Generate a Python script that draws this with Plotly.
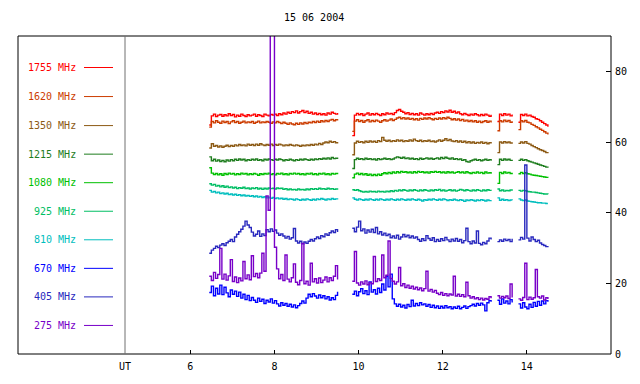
import numpy as np
import plotly.graph_objects as go

TITLE = "15 06 2004"
FREQS = ["1755 MHz", "1620 MHz", "1350 MHz", "1215 MHz", "1080 MHz",
         "925 MHz", "810 MHz", "670 MHz", "405 MHz", "275 MHz"]
COLORS = ["#ff0000", "#cc3c00", "#8c5a14", "#1e7d1e", "#00c000",
          "#00be64", "#00bebe", "#0000ff", "#2828be", "#7800c8"]
X_TICKS = [6, 8, 10, 12, 14]
Y_TICKS = [0, 20, 40, 60, 80]

# observation segments (UT hours)
T1 = np.linspace(6.45, 9.50, 62)
T2 = np.linspace(9.85, 13.15, 67)
T3 = np.linspace(13.30, 13.65, 8)
T4 = np.linspace(13.80, 14.50, 15)
SEGS = [T1, T2, T3, T4]

S1755 = [
    64.8, 67.4, 67.9, 67.2, 67.6, 67.8, 67.3, 67.7, 67.4, 68.0,
    67.5, 67.8, 67.1, 67.6, 67.3, 67.9, 67.5, 67.2, 67.7, 67.4,
    67.6, 67.9, 67.3, 67.7, 67.5, 67.2, 67.9, 67.6, 67.4, 67.8,
    67.6, 67.9, 67.5, 68.0, 67.7, 68.2, 67.9, 68.4, 68.1, 68.6,
    68.3, 68.8, 68.2, 68.6, 68.9, 68.3, 68.7, 68.1, 68.4, 67.9,
    68.2, 67.8, 68.1, 67.7, 68.0, 67.6, 68.2, 67.9, 68.4, 68.1,
    67.9, 68.2,
    61.8, 67.6, 68.1, 67.7, 68.0, 67.5, 67.9, 68.2, 67.6, 68.0,
    67.7, 68.1, 67.8, 67.5, 68.0, 67.7, 68.2, 67.9, 68.1, 67.8,
    68.3, 68.9, 69.2, 68.7, 68.4, 68.0, 68.3, 67.8, 68.1, 67.7,
    68.0, 67.6, 68.2, 67.9, 67.6, 68.0, 67.7, 68.1, 67.8, 68.2,
    68.4, 68.1, 68.6, 68.3, 68.8, 68.5, 69.0, 68.4, 68.7, 68.2,
    68.5, 68.0, 67.7, 68.1, 67.8, 67.5, 67.9, 67.6, 68.0, 67.7,
    67.4, 67.8, 67.5, 67.9, 67.6, 67.3, 67.7,
    65.8, 67.9, 67.5, 68.0, 67.6, 67.9, 67.4, 67.8,
    65.6, 67.8, 67.5, 67.9, 67.4, 67.6, 67.2, 67.0, 66.6, 66.4, 66.0, 65.6, 65.2, 64.8, 64.3,
]
S1620 = [
    64.2, 65.8, 65.4, 66.0, 65.6, 65.3, 65.9, 65.5, 65.8, 65.2,
    65.7, 66.0, 65.5, 65.8, 65.3, 65.6, 65.9, 65.4, 65.7, 65.5,
    65.8, 65.3, 65.6, 65.9, 65.4, 65.7, 65.5, 65.8, 65.6, 65.3,
    65.7, 65.4, 65.8, 65.5, 65.2, 65.6, 65.3, 65.0, 65.4, 65.1,
    64.9, 65.3, 65.0, 65.4, 65.1, 65.5, 65.2, 65.6, 65.4, 65.8,
    65.5, 65.9, 65.6, 66.0, 65.7, 66.1, 65.8, 66.2, 66.4, 66.0,
    66.3, 66.1,
    63.0, 65.9, 66.3, 65.8, 66.1, 65.6, 66.0, 66.3, 65.7, 66.1,
    65.8, 66.2, 65.9, 65.6, 66.0, 66.3, 65.9, 66.2, 66.5, 66.1,
    66.4, 66.8, 67.0, 66.6, 66.9, 66.5, 66.8, 66.4, 66.7, 66.3,
    66.6, 66.2, 66.7, 66.4, 66.8, 66.5, 66.9, 66.6, 66.3, 66.7,
    66.4, 66.8, 66.5, 66.9, 66.6, 67.0, 66.7, 66.3, 66.6, 66.2,
    66.5, 66.1, 66.4, 65.9, 66.2, 65.8, 66.1, 65.7, 66.0, 65.6,
    65.9, 65.5, 65.8, 66.0, 65.6, 65.9, 65.5,
    63.2, 66.0, 65.7, 66.2, 65.8, 66.1, 65.6, 65.9,
    63.5, 66.0, 65.7, 66.1, 65.6, 65.4, 65.0, 64.7, 64.3, 64.0, 63.6, 63.3, 62.9, 62.5, 62.1,
]
S1350 = [
    58.3, 59.5, 58.8, 59.0, 58.6, 58.9, 58.5, 58.8, 59.1, 58.7,
    59.0, 58.8, 59.2, 58.9, 59.3, 59.0, 59.2, 58.9, 59.4, 59.1,
    59.3, 59.0, 59.4, 59.1, 59.5, 59.2, 59.0, 59.3, 59.1, 59.4,
    59.0, 59.3, 59.1, 59.4, 59.2, 58.9, 59.2, 59.0, 59.3, 59.1,
    58.9, 59.2, 59.0, 58.8, 59.1, 58.9, 59.2, 59.0, 59.3, 59.1,
    59.4, 59.2, 59.6, 59.3, 59.7, 60.0, 59.8, 60.2, 59.9, 60.1,
    59.8, 60.0,
    56.4, 59.7, 60.2, 59.9, 60.1, 59.8, 60.2, 59.9, 60.3, 60.0,
    60.2, 59.9, 60.4, 60.1, 61.3, 60.5, 60.2, 60.5, 60.1, 60.4,
    60.2, 60.6, 60.3, 60.5, 60.1, 60.4, 60.2, 60.6, 60.3, 60.8,
    60.4, 60.2, 60.5, 60.1, 60.4, 60.2, 60.5, 60.1, 60.3, 60.0,
    60.3, 60.6, 60.2, 60.5, 60.9, 60.4, 60.7, 60.3, 60.1, 60.4,
    60.0, 60.3, 59.9, 60.2, 59.8, 60.1, 59.7, 60.0, 59.6, 59.9,
    59.7, 60.0, 59.6, 59.9, 59.5, 59.8, 59.6,
    57.0, 60.0, 59.7, 60.1, 59.8, 60.0, 59.7, 59.9,
    59.6, 60.0, 59.7, 60.1, 59.6, 59.4, 59.0, 58.7, 58.4, 58.1, 57.8, 57.6, 57.3, 57.0, 56.8,
]
S1215 = [
    55.8, 54.7, 55.1, 54.6, 54.9, 54.5, 54.8, 54.4, 54.9, 54.6,
    55.0, 54.7, 55.1, 54.8, 55.2, 54.9, 55.1, 54.7, 55.0, 54.8,
    55.1, 54.9, 55.2, 54.8, 55.0, 54.7, 55.1, 54.9, 55.2, 55.0,
    54.8, 55.1, 54.9, 55.2, 55.0, 54.7, 55.0, 54.8, 55.1, 54.9,
    54.7, 55.0, 54.8, 55.1, 54.9, 55.2, 55.0, 54.8, 55.1, 54.9,
    55.2, 55.0, 55.3, 55.1, 55.4, 55.2, 55.5, 55.2, 55.6, 55.3,
    55.4, 55.2,
    52.5, 55.0, 55.4, 55.1, 55.3, 55.0, 55.4, 55.1, 55.3, 55.0,
    55.2, 54.9, 55.3, 55.0, 55.2, 55.4, 55.1, 55.3, 55.0, 55.2,
    55.5, 55.8, 55.6, 55.4, 55.7, 55.3, 55.5, 55.2, 55.4, 55.1,
    55.3, 55.0, 55.4, 55.1, 55.3, 55.5, 55.2, 55.4, 55.1, 55.3,
    55.5, 55.2, 55.6, 55.3, 55.7, 55.4, 55.2, 55.5, 55.1, 55.3,
    55.0, 55.2, 54.8, 55.0, 54.5, 54.3, 54.7, 54.9, 55.1, 54.8,
    55.0, 54.7, 54.9, 55.1, 54.8, 55.0, 54.7,
    53.6, 55.1, 54.8, 55.2, 54.9, 55.1, 54.8, 55.0,
    54.8, 55.1, 54.8, 55.0, 54.7, 54.5, 54.3, 54.1, 53.9, 53.7, 53.5, 53.3, 53.1, 52.9, 52.7,
]
S1080 = [
    52.7, 51.2, 50.8, 51.1, 50.7, 51.0, 50.6, 51.1, 50.8, 51.2,
    50.9, 51.1, 50.7, 51.0, 50.8, 51.2, 50.9, 51.1, 50.7, 51.0,
    50.8, 51.1, 50.9, 50.6, 51.0, 50.8, 51.1, 50.9, 51.2, 50.8,
    51.0, 50.7, 51.1, 50.9, 51.2, 50.8, 51.0, 50.7, 51.1, 50.9,
    51.2, 50.9, 51.1, 50.8, 51.0, 50.7, 51.1, 50.9, 51.2, 50.8,
    51.0, 50.7, 51.1, 50.9, 51.2, 50.8, 51.0, 50.7, 51.1, 50.9,
    51.1, 50.9,
    49.9, 50.9, 51.2, 50.8, 51.1, 50.7, 51.0, 50.6, 50.9, 50.5,
    50.8, 50.5, 50.9, 50.6, 51.0, 51.3, 51.0, 51.4, 51.1, 51.5,
    51.2, 51.6, 51.3, 51.7, 51.4, 51.6, 51.3, 51.5, 51.2, 51.6,
    51.3, 51.7, 51.4, 51.6, 51.3, 51.5, 51.2, 51.6, 51.4, 51.7,
    51.4, 51.6, 51.3, 51.5, 51.2, 51.6, 51.3, 51.5, 51.2, 51.4,
    51.6, 51.3, 51.5, 51.2, 51.6, 51.3, 51.1, 51.4, 51.2, 51.5,
    51.2, 51.4, 51.1, 51.5, 51.2, 51.3, 51.0,
    48.3, 51.4, 51.1, 51.5, 51.2, 51.4, 51.1, 51.3,
    51.0, 51.4, 51.1, 51.3, 51.0, 50.9, 50.7, 50.6, 50.5, 50.4, 50.3, 50.2, 50.1, 50.0, 49.9,
]
S925 = [
    48.2, 47.8, 48.0, 47.5, 47.7, 47.3, 47.6, 47.2, 47.5, 47.1,
    47.3, 47.0, 47.2, 46.8, 47.1, 46.9, 47.2, 46.8, 47.0, 46.7,
    47.0, 46.8, 47.1, 46.7, 46.9, 46.6, 46.9, 46.7, 47.0, 46.8,
    46.9, 46.7, 47.0, 46.8, 46.9, 46.6, 46.8, 46.5, 46.7, 46.5,
    46.6, 46.4, 46.7, 46.5, 46.6, 46.4, 46.7, 46.5, 46.8, 46.6,
    46.8, 46.6, 46.9, 46.7, 46.8, 46.6, 46.9, 46.7, 46.8, 46.6,
    46.7, 46.5,
    46.5, 46.3, 46.5, 46.2, 46.0, 45.8, 46.0, 45.8, 46.1, 45.9,
    46.0, 45.8, 46.1, 45.9, 46.0, 45.8, 46.1, 45.9, 46.2, 46.0,
    46.3, 46.1, 46.4, 46.2, 46.5, 46.3, 46.1, 46.4, 46.2, 46.5,
    46.3, 46.1, 46.4, 46.2, 46.5, 46.3, 46.1, 46.4, 46.2, 46.5,
    46.3, 46.6, 46.2, 46.4, 46.1, 46.3, 46.5, 46.2, 46.4, 46.1,
    46.3, 46.6, 46.4, 46.2, 46.5, 46.3, 46.1, 46.4, 46.2, 46.5,
    46.3, 46.1, 46.4, 46.2, 46.5, 46.3, 46.2,
    46.7, 46.2, 46.4, 46.1, 46.3, 46.2, 46.4, 46.2,
    46.3, 46.1, 46.3, 46.2, 46.0, 45.9, 45.8, 45.8, 45.7, 45.6, 45.5, 45.4, 45.3, 45.3, 45.2,
]
S810 = [
    46.3, 45.8, 46.0, 45.6, 45.8, 45.4, 45.6, 45.3, 45.5, 45.1,
    45.3, 45.0, 45.2, 44.9, 45.1, 44.8, 45.0, 44.7, 44.9, 44.6,
    44.8, 44.5, 44.7, 44.4, 44.6, 44.3, 44.5, 44.2, 44.4, 44.1,
    44.3, 44.0, 44.2, 43.9, 44.1, 43.8, 44.0, 43.7, 43.9, 43.8,
    43.6, 43.9, 43.7, 43.5, 43.8, 43.6, 43.9, 43.7, 43.5, 43.8,
    43.6, 43.9, 43.7, 44.0, 43.8, 43.6, 43.9, 43.7, 44.0, 43.8,
    43.9, 43.7,
    44.2, 43.8, 43.6, 43.9, 43.7, 43.5, 43.8, 43.6, 43.9, 43.7,
    43.5, 43.8, 43.6, 43.9, 43.7, 43.5, 43.8, 43.6, 43.9, 43.7,
    43.5, 43.8, 43.6, 43.9, 43.7, 43.5, 43.8, 43.6, 43.9, 43.7,
    43.5, 43.8, 43.6, 43.3, 43.7, 43.5, 43.8, 43.6, 43.9, 43.7,
    43.5, 43.8, 43.6, 43.9, 43.7, 43.4, 43.7, 43.5, 43.8, 43.6,
    43.4, 43.7, 43.5, 43.2, 43.6, 43.4, 43.7, 43.5, 43.3, 43.6,
    43.4, 43.7, 43.5, 43.3, 43.6, 43.4, 43.5,
    44.2, 43.5, 43.8, 43.5, 43.7, 43.4, 43.6, 43.5,
    43.9, 43.6, 43.4, 43.6, 43.3, 43.2, 43.1, 43.0, 42.9, 42.8, 42.8, 42.7, 42.7, 42.6, 42.6,
]
S670 = [
    17.4, 19.2, 16.5, 18.6, 17.0, 19.5, 16.8, 18.9, 17.3, 16.2,
    18.1, 16.9, 17.8, 16.3, 17.5, 15.8, 16.9, 15.4, 16.6, 15.1,
    16.0, 15.2, 14.6, 15.8, 14.9, 15.5, 14.3, 15.2, 14.7, 15.6,
    14.4, 15.1, 14.2, 13.6, 14.5, 13.8, 14.3, 13.5, 14.1, 13.3,
    13.9, 13.1, 13.7, 14.3, 15.0, 14.4, 15.8, 16.9, 16.2, 17.1,
    16.4, 15.8, 16.7, 15.9, 16.5, 15.6, 16.2, 15.3, 15.9, 15.4,
    16.6, 17.6,
    16.9, 17.8, 16.5, 17.6, 18.5, 17.1, 17.9, 16.8, 20.4, 17.5,
    18.2, 17.0, 18.6, 17.4, 19.8, 18.1, 22.0, 19.0, 22.6, 15.6,
    14.2, 13.5, 14.1, 13.3, 13.8, 13.0, 14.0, 13.4, 15.2, 13.6,
    14.3, 13.7, 14.5, 13.9, 14.2, 13.5, 14.0, 13.2, 13.8, 13.1,
    13.6, 12.9, 13.5, 13.0, 13.7, 13.1, 13.4, 12.8, 13.3, 12.9,
    13.5, 12.8, 13.2, 13.6, 12.9, 13.4, 13.7, 14.1, 13.6, 14.3,
    13.8, 14.4, 13.9, 12.2, 14.5, 15.1, 14.8,
    15.2, 14.1, 15.6, 14.4, 15.0, 14.2, 15.4, 14.6,
    14.2, 13.0, 14.5, 13.3, 12.8, 14.1, 13.2, 14.6, 13.5, 14.9, 13.8, 15.0, 14.2, 15.1, 14.8,
]
S405 = [
    28.5, 29.4, 29.9, 30.5, 30.1, 30.8, 31.2, 30.7, 31.5, 31.9,
    32.4, 31.8, 33.1, 33.9, 34.6, 35.3, 36.2, 37.6, 36.5, 35.8,
    34.5, 33.4, 33.9, 34.8, 33.3, 34.0, 33.5, 35.2, 34.6, 35.4,
    34.7, 35.1, 34.2, 33.6, 34.0, 33.4, 32.8, 33.3, 32.5, 32.9,
    35.5, 32.0, 31.4, 31.9, 31.2, 31.7, 31.3, 31.9, 32.4, 32.0,
    32.6, 33.1, 32.7, 33.5, 33.2, 34.0, 33.6, 34.3, 34.8, 34.4,
    35.2, 34.5,
    35.6, 34.6, 35.9, 37.6, 34.9, 35.4, 34.2, 35.1, 34.5, 35.3,
    34.4, 35.8, 34.0, 34.6, 33.7, 34.2, 33.5, 33.9, 32.9, 33.4,
    32.8, 33.6, 32.5, 33.1, 33.8, 33.2, 33.6, 32.9, 33.4, 32.8,
    33.1, 32.4, 31.9, 32.6, 32.1, 33.5, 32.7, 32.2, 32.9, 31.8,
    32.4, 31.9, 32.6, 32.1, 33.0, 32.3, 31.8, 32.5, 32.0, 32.7,
    31.9, 32.4, 31.5, 32.1, 35.6, 31.8, 31.2, 32.0, 31.4, 34.8,
    31.3, 30.9, 31.6, 31.2, 32.0, 32.8, 32.4,
    31.8, 32.3, 31.9, 32.5, 32.1, 32.4, 31.8, 32.6,
    32.3, 33.0, 32.5, 53.5, 32.8, 32.0, 33.1, 32.4, 31.8, 32.2, 31.4, 31.0, 30.7, 30.4, 30.6,
]
S275 = [
    22.0, 20.8, 23.1, 21.4, 22.5, 29.9, 21.2, 22.6, 20.9, 22.1,
    26.7, 20.5, 21.8, 20.2, 21.5, 20.7, 26.2, 21.3, 22.4, 21.0,
    27.8, 21.9, 22.8, 21.6, 22.9, 28.5, 23.4, 44.7, 40.7, 95.0,
    95.0, 30.2, 24.1, 21.3, 22.5, 20.8, 28.0, 21.2, 20.4, 21.6,
    25.5, 20.3, 19.6, 20.8, 31.3, 19.9, 20.6, 19.5, 25.7, 20.4,
    21.3, 20.1, 21.5, 20.2, 20.9, 21.8, 20.4, 21.6, 20.8, 22.0,
    25.0, 21.1,
    20.6, 29.0, 20.1, 19.5, 20.4, 19.8, 20.7, 19.6, 20.2, 19.9,
    27.6, 20.5, 21.3, 20.8, 28.0, 21.6, 22.3, 32.0, 21.4, 20.6,
    19.8, 20.4, 24.5, 19.3, 19.9, 18.8, 19.5, 18.6, 19.2, 18.4,
    18.9, 18.2, 18.7, 17.9, 18.5, 23.4, 17.8, 18.3, 17.5, 18.0,
    17.2, 16.8, 17.4, 16.6, 17.1, 16.5, 17.0, 16.7, 22.0, 16.4,
    16.9, 16.3, 16.8, 16.2, 20.3, 16.5, 15.8, 16.2, 15.6, 15.9,
    15.4, 15.8, 15.3, 15.7, 15.5, 16.2, 15.8,
    16.5, 15.8, 16.3, 15.9, 16.4, 15.7, 19.8, 16.0,
    15.6, 15.2, 16.0, 25.7, 15.4, 16.1, 15.5, 15.9, 23.9, 16.2, 15.8, 16.4, 15.3, 15.9, 15.6,
]
SERIES = [S1755, S1620, S1350, S1215, S1080, S925, S810, S670, S405, S275]


def build(vals):
    xs, ys = [], []
    pos = 0
    for seg in SEGS:
        part = vals[pos:pos + len(seg)]
        pos += len(seg)
        xs += [float(v) for v in seg[:len(part)]]
        ys += part
        xs.append(None)
        ys.append(None)
    return xs, ys


FONT = "DejaVu Sans Mono"
fig = go.Figure()
for name, col, vals in zip(FREQS, COLORS, SERIES):
    xs, ys = build(vals)
    fig.add_trace(go.Scatter(x=xs, y=ys, mode="lines", name=name,
                             line=dict(color=col, width=1.4, shape="hv"),
                             connectgaps=False, hoverinfo="skip"))

# geometry (pixels) for panel outside the data domain
L, R, T, B = 125, 611, 36, 359
W, H = R - L, B - T


def px(xp):
    return (xp - L) / W


def py(yp):
    return (B - yp) / H


shapes = [
    dict(type="rect", xref="paper", yref="paper", x0=px(18), x1=1, y0=0, y1=1,
         line=dict(color="black", width=1)),
    dict(type="line", xref="paper", yref="paper", x0=0, x1=0, y0=0, y1=1,
         line=dict(color="#707070", width=1)),
]
annotations = [
    dict(text=TITLE, xref="paper", yref="paper", x=px(314), y=py(17),
         showarrow=False, font=dict(family=FONT, size=10, color="black"),
         xanchor="center", yanchor="middle"),
    dict(text="UT", xref="paper", yref="paper", x=0, y=py(372),
         showarrow=False, font=dict(family=FONT, size=10, color="black"),
         xanchor="center", yanchor="middle"),
]
leg_y = [68, 97.5, 127, 156, 185, 214, 243, 272, 301, 330]
for name, col, yp in zip(FREQS, COLORS, leg_y):
    annotations.append(dict(text=name, xref="paper", yref="paper", x=px(78), y=py(yp),
                            showarrow=False, xanchor="right", yanchor="middle",
                            font=dict(family=FONT, size=10, color=col)))
    shapes.append(dict(type="line", xref="paper", yref="paper", x0=px(84), x1=px(113),
                       y0=py(yp), y1=py(yp), line=dict(color=col, width=1)))

fig.update_layout(
    width=640, height=384,
    margin=dict(l=L, r=640 - R, t=T, b=384 - B),
    paper_bgcolor="white", plot_bgcolor="white",
    showlegend=False,
    shapes=shapes, annotations=annotations,
    font=dict(family=FONT, size=10, color="black"),
    xaxis=dict(range=[4.447, 16.0], tickvals=X_TICKS, ticktext=[str(v) for v in X_TICKS],
               ticks="inside", ticklen=4, tickcolor="black", showgrid=False,
               zeroline=False, showline=False, ticklabelstandoff=5,
               tickfont=dict(family=FONT, size=10, color="black")),
    yaxis=dict(range=[0, 90], side="right", tickvals=Y_TICKS,
               ticks="inside", ticklen=5, tickcolor="black", showgrid=False,
               zeroline=False, showline=False, ticklabelstandoff=3,
               tickfont=dict(family=FONT, size=10, color="black")),
)

fig.write_html("out.html", config={"displayModeBar": False},
               post_script="document.body.style.margin='0';document.body.style.padding='0';")
